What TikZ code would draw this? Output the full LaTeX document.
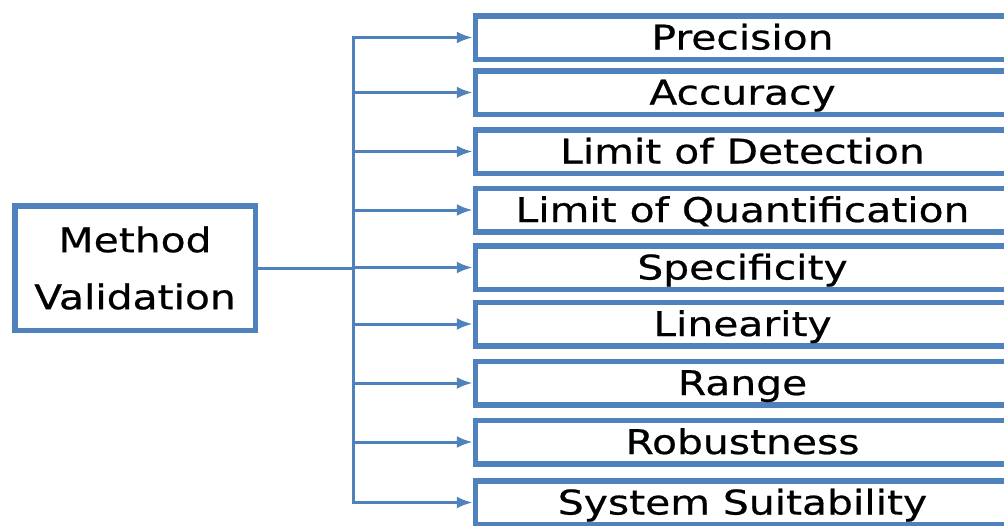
\documentclass[tikz,border=0pt]{standalone}
\usepackage{fontspec}
\newfontfamily\labelfont[FakeStretch=1.2,FakeBold=0.6]{DejaVu Sans}
\usetikzlibrary{arrows.meta,shadows}
\definecolor{vblue}{HTML}{4F81BD}
\begin{document}
\begin{tikzpicture}[x=1pt,y=-1pt,
  boxshadow/.style={drop shadow={shadow xshift=1.2pt,shadow yshift=-1.8pt,opacity=0.35,fill=black!60}},
  item/.style={draw=vblue,line width=5.5pt,fill=white,minimum width=534pt,minimum height=43.5pt,
    inner sep=0pt,text height=24pt,text depth=0pt,
    font=\labelfont\fontsize{34}{40}\selectfont,boxshadow},
  mainbox/.style={draw=vblue,line width=5.5pt,fill=white,minimum width=240.5pt,minimum height=124.5pt,
    inner sep=0pt,align=center,font=\labelfont\fontsize{34}{57}\selectfont,boxshadow},
  link/.style={draw=vblue,line width=3pt},
  tip/.style={-{Latex[length=16pt,width=12pt]}}]
\useasboundingbox (0,0) rectangle (1004,525);
\clip (0,0) rectangle (1004,525);

% validation parameters
\node[item] (b1) at (742.5,37.5) {Precision};
\node[item] (b2) at (742.5,92.5) {Accuracy};
\node[item] (b3) at (742.5,151.5) {Limit of Detection};
\node[item] (b4) at (742.5,210) {Limit of Quantification};
\node[item] (b5) at (742.5,267.5) {Specificity};
\node[item] (b6) at (742.5,324) {Linearity};
\node[item] (b7) at (742.5,383) {Range};
\node[item] (b8) at (742.5,442) {Robustness};
\node[item] (b9) at (742.5,502.5) {System Suitability};

% root
\node[mainbox] (main) at (135,268) {Method\\Validation};

% trunk line
\coordinate (trunk) at (353,0);
\draw[link,line cap=rect] (b1.west -| trunk) -- (b9.west -| trunk);
\draw[link] (main.east) -- (main.east -| trunk);

% branches
\foreach \b in {b1,b2,b3,b4,b5,b6,b7,b8,b9}
  \draw[link,tip] (\b.west -| trunk) -- (\b.west);
\end{tikzpicture}
\end{document}
